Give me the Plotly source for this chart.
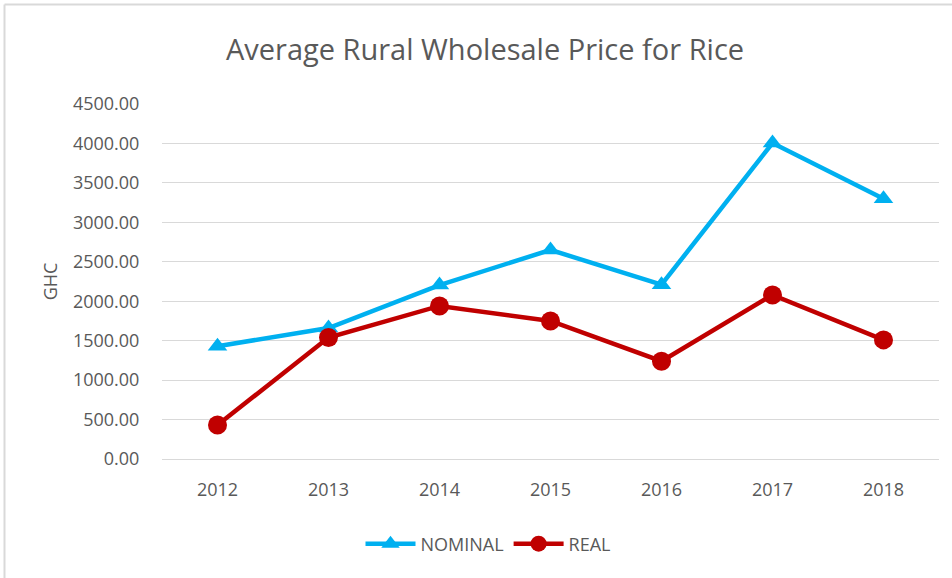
import plotly.graph_objects as go

years = ["2012", "2013", "2014", "2015", "2016", "2017", "2018"]
nominal = [1430, 1660, 2205, 2650, 2210, 4005, 3300]
real = [430, 1540, 1940, 1750, 1240, 2080, 1510]
y_ticks = [0, 500, 1000, 1500, 2000, 2500, 3000, 3500, 4000, 4500]

font_family = "Open Sans, Noto Sans, sans-serif"
grey = "#595959"

W, H = 952, 578
L, R, T, B = 162, 13, 104, 119
PW, PH = W - L - R, H - T - B

fig = go.Figure()
fig.add_trace(go.Scatter(
    x=years, y=nominal, name="NOMINAL", mode="lines+markers",
    line=dict(color="#00B0F0", width=4.5),
    marker=dict(symbol="triangle-up", size=17, color="#00B0F0"),
))
fig.add_trace(go.Scatter(
    x=years, y=real, name="REAL", mode="lines+markers",
    line=dict(color="#C00000", width=4.5),
    marker=dict(symbol="circle", size=19, color="#C00000"),
))

fig.update_layout(
    width=W, height=H,
    margin=dict(l=L, r=R, t=T, b=B),
    paper_bgcolor="white", plot_bgcolor="white",
    title=dict(text="Average Rural Wholesale Price for Rice",
               xref="container", x=485 / W, xanchor="center",
               yref="container", y=1 - 50 / H, yanchor="middle",
               font=dict(family=font_family, size=29, color=grey)),
    showlegend=True,
    legend=dict(orientation="h", xref="container", x=488 / W, xanchor="center",
                yref="container", y=1 - 544 / H, yanchor="middle",
                font=dict(family=font_family, size=18, color=grey),
                itemwidth=50),
    xaxis=dict(type="category", range=[-0.5, 6.5], showgrid=False,
               showline=False, ticks="outside", ticklen=14, tickcolor="rgba(0,0,0,0)",
               zeroline=False,
               tickfont=dict(family=font_family, size=18, color=grey)),
    yaxis=dict(range=[0, 4500], tickvals=y_ticks,
               ticktext=[f"{v:.2f}" for v in y_ticks],
               showgrid=True, gridcolor="#D9D9D9", gridwidth=1,
               zeroline=True, zerolinecolor="#D9D9D9", zerolinewidth=1,
               showline=False, ticks="outside", ticklen=18, tickcolor="rgba(0,0,0,0)",
               tickfont=dict(family=font_family, size=18, color=grey),
               title=dict(text="GHC", font=dict(family=font_family, size=18, color=grey),
                          standoff=10)),
)

# Outer chart border (left and top edges visible)
bx = (4.5 - L) / PW
by = 1 + (T - 4.5) / PH
fig.add_shape(type="line", xref="paper", yref="paper",
              x0=bx, x1=bx, y0=-(B + 10) / PH, y1=by,
              line=dict(color="#D9D9D9", width=2), layer="below")
fig.add_shape(type="line", xref="paper", yref="paper",
              x0=bx, x1=1 + (R + 10) / PW, y0=by, y1=by,
              line=dict(color="#D9D9D9", width=2), layer="below")

fig.write_html(
    "out.html",
    config={"displayModeBar": False},
    post_script="document.body.style.margin='0px';document.body.style.overflow='hidden';",
)
